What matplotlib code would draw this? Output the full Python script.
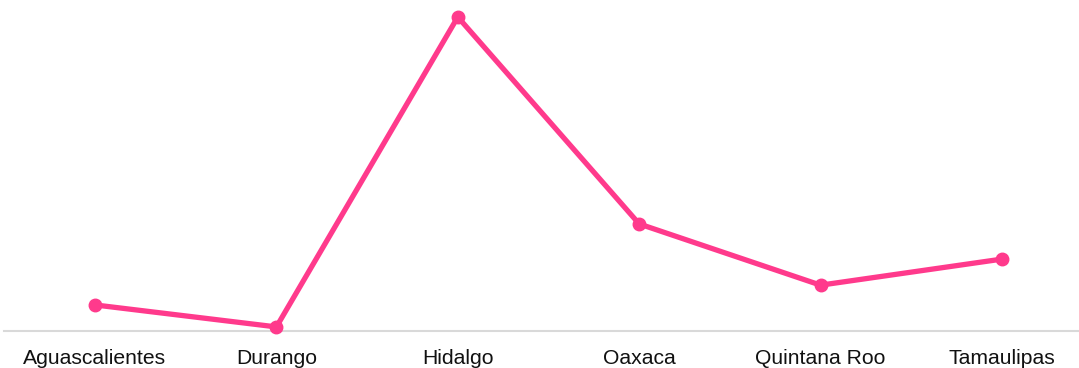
import matplotlib.pyplot as plt

estados = ["Aguascalientes", "Durango", "Hidalgo", "Oaxaca", "Quintana Roo", "Tamaulipas"]
valores = [8.3, 1.3, 100, 34.1, 14.6, 22.9]

plt.rcParams["font.family"] = ["Liberation Sans", "DejaVu Sans"]

fig = plt.figure(figsize=(10.79, 3.68), dpi=100)
ax = fig.add_axes([4.3 / 1079, 1 - 331 / 368, 1088.4 / 1079, 331 / 368])

x = list(range(len(estados)))
ax.plot(x, valores, color="#ff3a8c", lw=3.8, marker="o", ms=9,
        solid_joinstyle="miter", clip_on=False, zorder=3)

ax.set_xlim(-0.5, len(estados) - 0.5)
ax.set_ylim(0, 100 * 331 / 314)
ax.set_xticks(x)
ax.set_xticklabels(estados, fontsize=15.2, color="#111111")
ax.tick_params(axis="x", length=0, pad=13)
ax.set_yticks([])

for s in ["top", "right", "left"]:
    ax.spines[s].set_visible(False)
ax.spines["bottom"].set_color("#d9d9d9")
ax.spines["bottom"].set_linewidth(1.5)
ax.spines["bottom"].set_zorder(1)

fig.savefig("out.png", dpi=100)
